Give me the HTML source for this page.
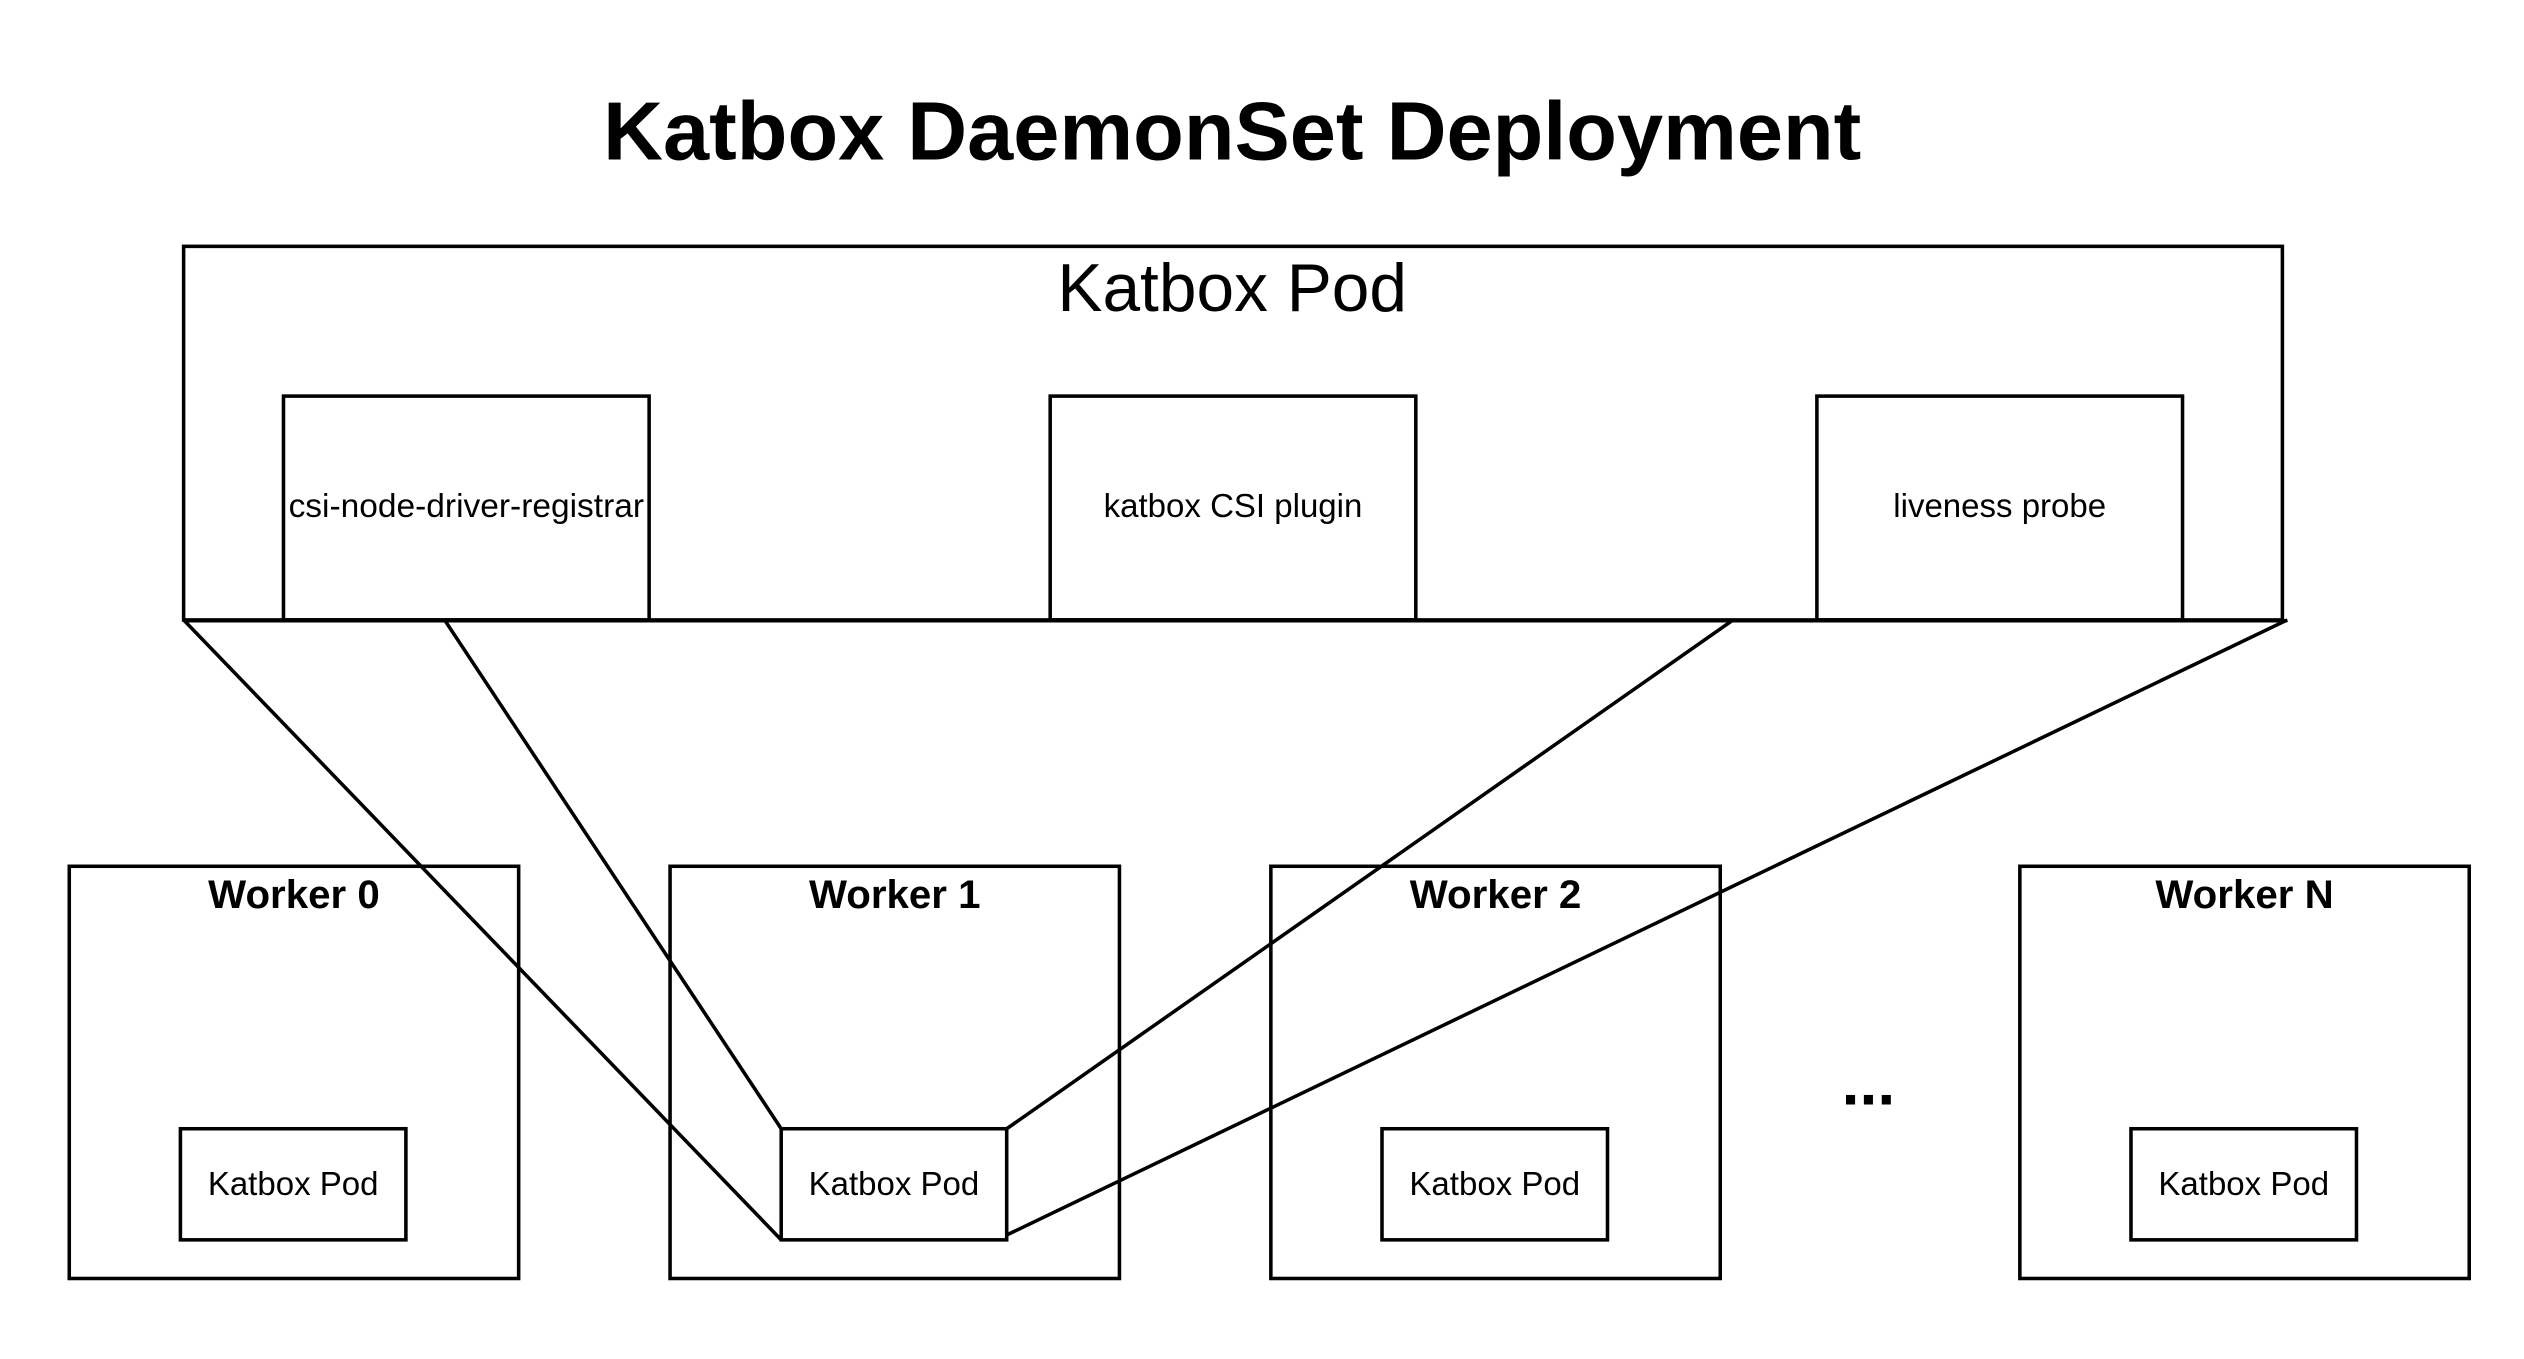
<!DOCTYPE html>
<html><head><meta charset="utf-8"><style>
html,body{margin:0;padding:0;background:#fff;}
svg{display:block;}
text{font-family:"Liberation Sans",sans-serif;fill:#000;}
</style></head><body>
<svg width="2524" height="1359" viewBox="0 0 1567 844" preserveAspectRatio="none" xmlns="http://www.w3.org/2000/svg">
<g fill="none" stroke="#000" stroke-width="2.2">
<rect x="114" y="153" width="1303" height="232"/>
<rect x="176" y="246" width="227" height="139"/>
<rect x="652" y="246" width="227" height="139"/>
<rect x="1128" y="246" width="227" height="139"/>
<line x1="114" y1="385.5" x2="1420" y2="385.5"/>
<rect x="43" y="538" width="279" height="256"/>
<rect x="416" y="538" width="279" height="256"/>
<rect x="789" y="538" width="279" height="256"/>
<rect x="1254" y="538" width="279" height="256"/>
<rect x="112" y="701" width="140" height="69"/>
<rect x="485" y="701" width="140" height="69"/>
<rect x="858" y="701" width="140" height="69"/>
<rect x="1323" y="701" width="140" height="69"/>
<line x1="114" y1="385" x2="485" y2="770"/>
<line x1="276" y1="385" x2="485" y2="701"/>
<line x1="1076" y1="385" x2="625" y2="701"/>
<line x1="1420" y1="385" x2="625" y2="767"/>
</g>
<text x="765" y="99" font-size="51.5" font-weight="bold" text-anchor="middle">Katbox DaemonSet Deployment</text>
<text x="765" y="193" font-size="42" text-anchor="middle">Katbox Pod</text>
<text x="289.5" y="321" font-size="20.8" text-anchor="middle">csi-node-driver-registrar</text>
<text x="765.5" y="321" font-size="20.5" text-anchor="middle">katbox CSI plugin</text>
<text x="1241.5" y="321" font-size="20.5" text-anchor="middle">liveness probe</text>
<text x="182.5" y="564" font-size="25" font-weight="bold" text-anchor="middle">Worker 0</text>
<text x="555.5" y="564" font-size="25" font-weight="bold" text-anchor="middle">Worker 1</text>
<text x="928.5" y="564" font-size="25" font-weight="bold" text-anchor="middle">Worker 2</text>
<text x="1393.5" y="564" font-size="25" font-weight="bold" text-anchor="middle">Worker N</text>
<text x="182" y="742" font-size="20.5" text-anchor="middle">Katbox Pod</text>
<text x="555" y="742" font-size="20.5" text-anchor="middle">Katbox Pod</text>
<text x="928" y="742" font-size="20.5" text-anchor="middle">Katbox Pod</text>
<text x="1393" y="742" font-size="20.5" text-anchor="middle">Katbox Pod</text>
<text x="1160" y="686" font-size="40" font-weight="bold" text-anchor="middle">...</text>
</svg>
</body></html>
